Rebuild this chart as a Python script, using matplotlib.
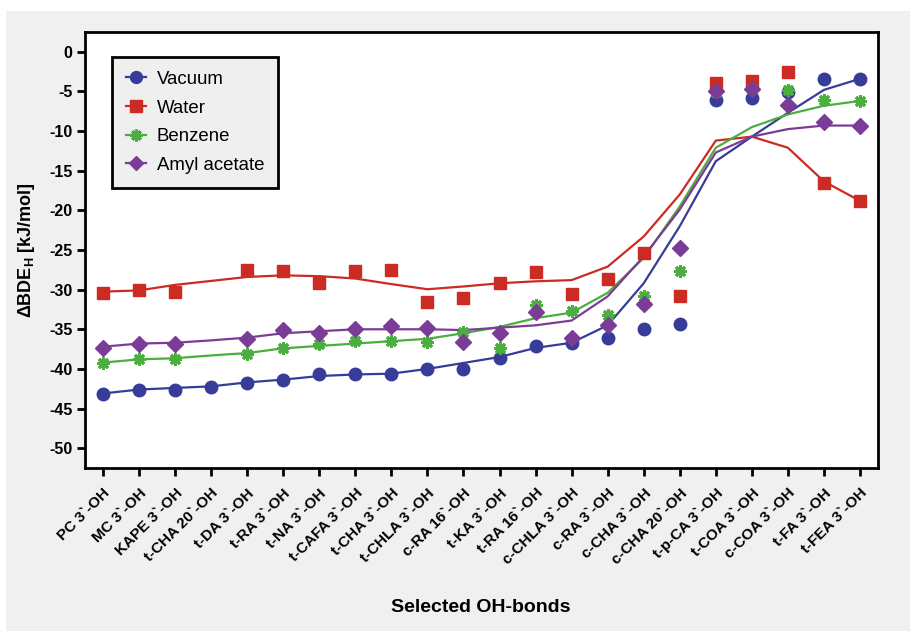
import numpy as np
import matplotlib
matplotlib.use('Agg')
import matplotlib.pyplot as plt
from matplotlib.lines import Line2D
from matplotlib.patches import Rectangle

plt.rcParams['font.family'] = ['Liberation Sans', 'DejaVu Sans']
plt.rcParams['axes.unicode_minus'] = False
plt.rcParams['mathtext.fontset'] = 'custom'
plt.rcParams['mathtext.rm'] = 'Liberation Sans'
plt.rcParams['mathtext.bf'] = 'Liberation Sans:bold'

# 键位名称
bonds = ['PC 3`-OH', 'MC 3`-OH', 'KAPE 3`-OH', 't-CHA 20`-OH', 't-DA 3`-OH',
         't-RA 3`-OH', 't-NA 3`-OH', 't-CAFA 3`-OH', 't-CHA 3`-OH', 't-CHLA 3`-OH',
         'c-RA 16`-OH', 't-KA 3`-OH', 't-RA 16`-OH', 'c-CHLA 3`-OH', 'c-RA 3`-OH',
         'c-CHA 3`-OH', 'c-CHA 20`-OH', 't-p-CA 3`-OH', 't-COA 3`-OH', 'c-COA 3`-OH',
         't-FA 3`-OH', 't-FEA 3`-OH']

nan = np.nan
# 计算点 (markers)
vacuum_pts = [-43.2, -42.6, -42.6, -42.3, -41.8, -41.4, -40.7, -40.7, -40.6, -40.0,
              -40.0, -38.6, -37.1, -36.7, -36.1, -35.0, -34.3, -6.1, -5.8, -5.1, -3.45, -3.4]
water_pts = [-30.4, -30.1, -30.3, nan, -27.5, -27.6, -29.1, -27.65, -27.55, -31.55,
             -31.05, -29.2, -27.8, -30.55, -28.6, -25.4, -30.75, -3.95, -3.65, -2.5, -16.6, -18.85]
benzene_pts = [-39.2, -38.7, -38.7, nan, -38.1, -37.35, -36.9, -36.5, -36.5, -36.6,
               -35.4, -37.3, -31.9, -32.7, -33.2, -30.8, -27.6, -5.1, -4.7, -4.8, -6.1, -6.2]
amyl_pts = [-37.3, -36.8, -36.8, nan, -36.2, -35.1, -35.5, -35.0, -34.6, -34.8,
            -36.6, -35.5, -32.8, -36.1, -34.4, -31.8, -24.75, -5.0, -4.7, -6.7, -8.9, -9.4]

# 趋势线 (lines)
vacuum_line = [-43.1, -42.6, -42.4, -42.2, -41.7, -41.35, -40.9, -40.7, -40.6, -40.0,
               -39.25, -38.5, -37.35, -36.7, -34.5, -29.2, -22.0, -13.8, -10.7, -7.7, -4.8, -3.4]
water_line = [-30.25, -30.1, -29.4, -28.9, -28.4, -28.2, -28.3, -28.6, -29.3, -29.95,
              -29.6, -29.2, -28.95, -28.8, -27.1, -23.3, -18.0, -11.2, -10.7, -12.1, -16.35, -18.8]
benzene_line = [-39.2, -38.8, -38.65, -38.3, -38.0, -37.4, -37.1, -36.8, -36.5, -36.2,
                -35.5, -34.7, -33.6, -32.9, -30.4, -26.0, -19.5, -12.1, -9.5, -7.9, -6.8, -6.2]
amyl_line = [-37.2, -36.8, -36.7, -36.4, -36.05, -35.5, -35.25, -35.0, -35.0, -35.0,
             -35.1, -34.8, -34.5, -33.9, -30.85, -25.8, -19.9, -12.7, -10.7, -9.75, -9.3, -9.3]

series = [
    ('Vacuum', vacuum_pts, vacuum_line, '#363c98', 'o', 9, 1),
    ('Water', water_pts, water_line, '#cc2b24', 's', 8.5, 1),
    ('Benzene', benzene_pts, benzene_line, '#4cae3e', (8, 2, 0), 9, 2.2),
    ('Amyl acetate', amyl_pts, amyl_line, '#7b3c98', 'D', 8, 1),
]

fig = plt.figure(figsize=(9.12, 6.31), dpi=100, facecolor='white')
bg = Rectangle((6 / 912, 0), 904 / 912, 1 - 11 / 631, transform=fig.transFigure,
               facecolor='#eff0ef', edgecolor='none', zorder=-10)
fig.patches.append(bg)
ax = fig.add_axes([85 / 912, 1 - 468 / 631, 793 / 912, 436 / 631])
ax.set_facecolor('white')

x = np.arange(len(bonds))
handles = []
for name, pts, line, c, m, ms, mew in series:
    ax.plot(x, line, color=c, lw=1.6, zorder=2)
    ax.plot(x, pts, ls='none', marker=m, ms=ms, color=c, mec=c, mew=mew, zorder=3)
    handles.append(Line2D([], [], color=c, lw=1.6, marker=m, ms=ms * 0.95, mec=c, mew=mew))

ax.set_xlim(-0.5, len(bonds) - 0.5)
ax.set_ylim(-52.5, 2.5)
ax.set_yticks(np.arange(0, -51, -5))
ax.set_xticks(x)
ax.set_xticklabels(bonds, rotation=45, ha='right', rotation_mode='anchor',
                   fontsize=11, fontweight='bold')
for lab in ax.get_yticklabels():
    lab.set_fontsize(11.5)
    lab.set_fontweight('bold')
ax.tick_params(direction='out', length=6, width=2, pad=3)
ax.tick_params(axis='x', pad=7)
for sp in ax.spines.values():
    sp.set_linewidth(2)

ax.set_ylabel('ΔBDE$_\\mathbf{H}$ [kJ/mol]', fontsize=13, fontweight='bold', labelpad=9)
fig.text(481 / 912, 1 - 607 / 631, 'Selected OH-bonds', ha='center', va='center',
         fontsize=14, fontweight='bold')

leg = ax.legend(handles, [s[0] for s in series], loc='upper left',
                bbox_to_anchor=(27 / 793, 1 - 25 / 436), borderaxespad=0,
                fontsize=13.4, frameon=True, fancybox=False, facecolor='#efefef',
                edgecolor='black', framealpha=1, handlelength=1.1, labelspacing=0.62,
                borderpad=0.75, handletextpad=0.55)
leg.get_frame().set_linewidth(2)

fig.savefig('out.png', dpi=100, facecolor=fig.get_facecolor())
